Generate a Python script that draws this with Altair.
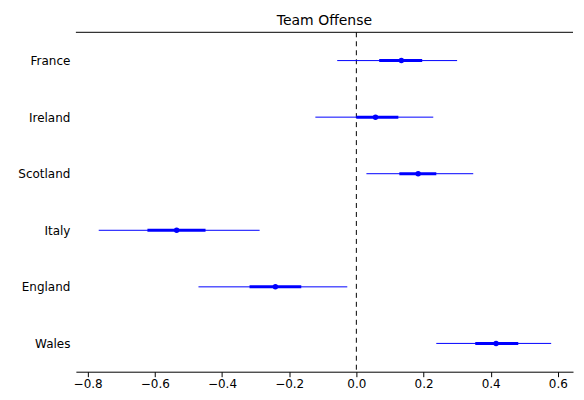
import altair as alt
import pandas as pd

teams = ['France', 'Ireland', 'Scotland', 'Italy', 'England', 'Wales']
mean = [0.134, 0.057, 0.184, -0.535, -0.241, 0.416]
lo95 = [-0.057, -0.122, 0.030, -0.767, -0.470, 0.238]
hi95 = [0.300, 0.229, 0.348, -0.288, -0.027, 0.580]
lo50 = [0.068, 0.000, 0.128, -0.622, -0.318, 0.354]
hi50 = [0.196, 0.125, 0.238, -0.449, -0.164, 0.482]

df = pd.DataFrame({'team': teams, 'mean': mean, 'lo95': lo95, 'hi95': hi95,
                   'lo50': lo50, 'hi50': hi50})

xscale = alt.Scale(domain=[-0.835, 0.645], nice=False, zero=False)
y = alt.Y('team:N', sort=teams, title=None,
          scale=alt.Scale(type='point', padding=0.5),
          axis=alt.Axis(domain=False, ticks=False, labelFontSize=12,
                        labelColor='black', labelPadding=6, grid=False))

base = alt.Chart(df).encode(y=y)

thin = base.mark_rule(color='blue', strokeWidth=1).encode(
  x=alt.X('lo95:Q', scale=xscale, title=None,
          axis=alt.Axis(values=[-0.8, -0.6, -0.4, -0.2, 0.0, 0.2, 0.4, 0.6],
                        format='.1f', grid=False, domainColor='black',
                        tickColor='black', labelColor='black', labelFontSize=12,
                        tickSize=5)),
  x2='hi95:Q'
)
thick = base.mark_rule(color='blue', strokeWidth=3).encode(x='lo50:Q', x2='hi50:Q')
pts = base.mark_circle(color='blue', size=30, opacity=1).encode(x='mean:Q')

zero = alt.Chart(pd.DataFrame({'z': [0.0]})).mark_rule(
  color='black', strokeDash=[5, 4], strokeWidth=1
).encode(x=alt.X('z:Q', scale=xscale))

top = alt.Chart(pd.DataFrame({'a': [-0.835], 'b': [0.645]})).mark_rule(
  color='black', strokeWidth=1, opacity=1
).encode(x=alt.X('a:Q', scale=xscale), x2='b:Q', y=alt.value(0))

chart = alt.layer(zero, thin, thick, pts, top).properties(
  width=498, height=340,
  padding={'left': 9, 'right': 2, 'top': 5, 'bottom': 5},
  title=alt.Title('Team Offense', fontSize=14, fontWeight='normal', color='black')
).configure_view(stroke=None).configure_axis(labelFont='DejaVu Sans').configure_title(font='DejaVu Sans')

chart.save("out.html", embed_options={"renderer": "svg", "actions": False})
